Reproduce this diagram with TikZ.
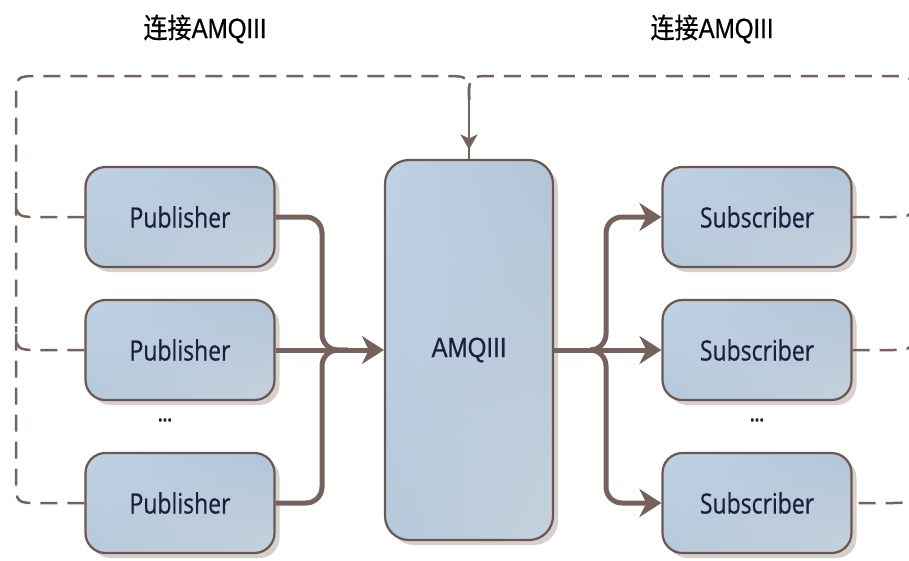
\documentclass[tikz,border=0pt]{standalone}
\usepackage{fontspec}
\usetikzlibrary{arrows.meta,shadows,shadings,decorations.markings}
\newfontfamily\boxfont[FakeStretch=0.82,FakeBold=0.6]{Open Sans}
\newfontfamily\latinfont[FakeStretch=0.86,FakeBold=0.6]{Liberation Sans}
\newfontfamily\cjkfont[FakeStretch=0.86,FakeBold=0.4]{Noto Sans CJK SC}

\definecolor{conn}{HTML}{76625C}
\definecolor{edge}{HTML}{6A5751}
\definecolor{shade}{HTML}{D6D0CD}
\definecolor{ink}{HTML}{1C2040}
\definecolor{boxUL}{HTML}{BFD2E4}
\definecolor{boxUR}{HTML}{B2C5D7}
\definecolor{boxLL}{HTML}{B6C9DA}
\definecolor{boxLR}{HTML}{C5D1DD}

\tikzset{
  x=1pt, y=-1pt,
  box/.style={draw=edge, line width=2.2pt, rounded corners=20pt,
    upper left=boxUL, upper right=boxUR, lower left=boxLL, lower right=boxLR,
    drop shadow={shadow xshift=5pt, shadow yshift=-5pt, fill=shade, opacity=1},
    text=ink, inner sep=0pt},
  client/.style={box, minimum width=189pt, minimum height=100pt,
    font=\boxfont\fontsize{28}{32}\selectfont},
  broker/.style={box, minimum width=168pt, minimum height=380pt, rounded corners=24pt,
    font=\latinfont\fontsize{28}{32}\selectfont},
  heading/.style={text=black, inner sep=0pt},
  ellip/.style={text=ink, font=\boxfont\bfseries\fontsize{20}{24}\selectfont, inner sep=0pt},
  flow/.style={draw=conn, line width=5pt, rounded corners=16pt},
  flowtip/.style={flow, -{Stealth[length=22pt, width=28pt, inset=7pt]}},
  link/.style={draw=conn, line width=2.5pt, dash pattern=on 17pt off 10pt},
  linktip/.style={draw=conn, line width=2.5pt,
    decoration={markings, mark=at position 0.84 with
      {\arrow{Stealth[length=15pt, width=17pt, inset=4pt]}}},
    postaction=decorate},
}

\begin{document}
\begin{tikzpicture}
\useasboundingbox (0,0) rectangle (909,560);
\clip (0,0) rectangle (909,560);

% headings
\node[heading] (hL) at (205,29) {\cjkfont\fontsize{28}{32}\selectfont 连接\latinfont AMQIII};
\node[heading] (hR) at (712,29) {\cjkfont\fontsize{28}{32}\selectfont 连接\latinfont AMQIII};

% broker and clients
\node[broker] (amq) at (469,350) {AMQIII};

\node[client] (pub1) at (180,217) {Publisher};
\node[client] (pub2) at (180,350) {Publisher};
\node[client] (pub3) at (180,503) {Publisher};
\node[ellip] (dotsL) at (165,420) {...};

\node[client] (sub1) at (757,217) {Subscriber};
\node[client] (sub2) at (757,350) {Subscriber};
\node[client] (sub3) at (757,503) {Subscriber};
\node[ellip] (dotsR) at (757,420) {...};

% junction points
\coordinate (mL) at (348,350);
\coordinate (mR) at (590,350);
\coordinate (jt) at (amq.north |- 0,100);

% message flow: publishers -> broker
\draw[flow] (pub1.east) -- (322,217) -- (322,350) -- (mL);
\draw[flow] (pub3.east) -- (322,503) -- (322,350) -- (mL);
\draw[flowtip] (pub2.east) -- (amq.west);

% message flow: broker -> subscribers
\draw[flowtip] (amq.east) -- (sub2.west);
\draw[flowtip] (mR) -- (606,350) -- (606,217) -- (sub1.west);
\draw[flowtip] (mR) -- (606,350) -- (606,503) -- (sub3.west);

% connection lines, left side
\draw[link] (pub3.west) -- (40,503) .. controls (16,503) .. (16,479)
  -- (16,100) .. controls (16,76) .. (40,76) -- (443,76)
  .. controls (jt |- 0,76) .. (jt);
\draw[link] (pub1.west) -- (40,217) .. controls (16,217) .. (16,193);
\draw[link] (pub2.west) -- (40,350) .. controls (16,350) .. (16,326);

% connection lines, right side
\draw[link] (jt) .. controls (jt |- 0,76) .. (493,76) -- (889,76)
  .. controls (913,76) .. (913,100) -- (913,479)
  .. controls (913,503) .. (889,503) -- (sub3.east);
\draw[link] (sub1.east) -- (889,217) .. controls (913,217) .. (913,193);
\draw[link] (sub2.east) -- (889,350) .. controls (913,350) .. (913,326);

% connection into the broker
\draw[linktip] (jt) -- (amq.north);
\end{tikzpicture}
\end{document}
